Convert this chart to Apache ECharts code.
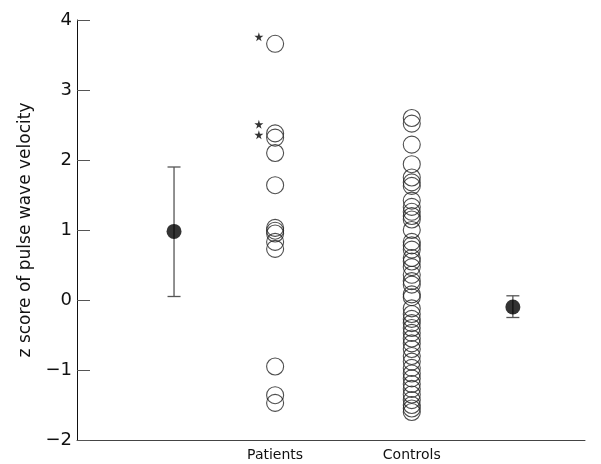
<!DOCTYPE html>
<html><head><meta charset="utf-8">
<script src="https://cdn.jsdelivr.net/npm/echarts@6/dist/echarts.min.js"></script>
<style>html,body{margin:0;padding:0;background:#fff}#c{width:601px;height:464px}</style>
</head><body><div id="c"></div>
<script>
// x positions (arbitrary 0..10 scale) of each column
const groupNames = ['Patients', 'Controls'];
const groupX = [3.9, 6.59];
const meanX = [1.91, 8.58];
const starX = 3.58;

const patients = [3.66, 2.38, 2.32, 2.10, 1.64, 1.03, 0.99, 0.95, 0.83, 0.73, -0.95, -1.36, -1.47];
const controls = [2.60, 2.52, 2.22, 1.94, 1.75, 1.68, 1.63, 1.42, 1.33, 1.26, 1.20, 1.15, 1.00, 0.83,
  0.78, 0.72, 0.60, 0.55, 0.47, 0.36, 0.27, 0.22, 0.08, 0.04, -0.12, -0.20, -0.27, -0.33, -0.40,
  -0.47, -0.55, -0.62, -0.70, -0.80, -0.88, -0.97, -1.05, -1.12, -1.20, -1.27, -1.35, -1.43,
  -1.50, -1.55, -1.60];
const starValues = [3.76, 2.51, 2.36];
const means = [0.98, -0.10];
const lowers = [0.05, -0.25];
const uppers = [1.90, 0.06];
const yTicks = [-2, -1, 0, 1, 2, 3, 4];

const starPath = 'path://M50,0 L61,35 L98,35 L68,57 L79,91 L50,70 L21,91 L32,57 L2,35 L39,35 Z';
const font = '"DejaVu Sans", sans-serif';

const chart = echarts.init(document.getElementById('c'));
chart.setOption({
  animation: false,
  grid: {left: 77, right: 16, top: 20, bottom: 24},
  xAxis: {
    type: 'value', min: 0, max: 10,
    splitLine: {show: false},
    axisLine: {onZero: false, lineStyle: {color: '#444', width: 1}},
    axisTick: {show: false},
    axisLabel: {
      customValues: groupX,
      formatter: v => { const i = groupX.indexOf(v); return i >= 0 ? groupNames[i] : ''; },
      color: '#111', fontSize: 14, fontFamily: font, margin: 8
    }
  },
  yAxis: {
    type: 'value', min: yTicks[0], max: yTicks[yTicks.length - 1], interval: 1,
    name: 'z score of pulse wave velocity', nameLocation: 'middle', nameGap: 42,
    nameTextStyle: {fontSize: 17, fontFamily: font, color: '#111'},
    splitLine: {show: false},
    axisLine: {lineStyle: {color: '#111', width: 1}},
    axisTick: {inside: true, length: 13, lineStyle: {color: '#555'}},
    axisLabel: {
      formatter: v => String(v).replace('-', '\u2212'),
      color: '#111', fontSize: 18, fontFamily: font, margin: 5
    }
  },
  series: [
    {
      type: 'scatter', symbol: 'circle', symbolSize: 17,
      itemStyle: {color: 'rgba(255,255,255,0)', borderColor: '#222', borderWidth: 1.1},
      data: patients.map(v => [groupX[0], v])
    },
    {
      type: 'scatter', symbol: 'circle', symbolSize: 17,
      itemStyle: {color: 'rgba(255,255,255,0)', borderColor: '#222', borderWidth: 1.1},
      data: controls.map(v => [groupX[1], v])
    },
    {
      type: 'scatter', symbol: starPath, symbolSize: 9,
      itemStyle: {color: '#000'},
      data: starValues.map(v => [starX, v])
    },
    {
      type: 'custom',
      renderItem: (params, api) => {
        const x = api.value(0);
        const lo = api.coord([x, api.value(1)]);
        const hi = api.coord([x, api.value(2)]);
        const hw = 6.5;
        const st = {stroke: '#555', lineWidth: 1.3};
        return {type: 'group', children: [
          {type: 'line', shape: {x1: lo[0], y1: lo[1], x2: hi[0], y2: hi[1]}, style: st},
          {type: 'line', shape: {x1: lo[0]-hw, y1: lo[1], x2: lo[0]+hw, y2: lo[1]}, style: st},
          {type: 'line', shape: {x1: hi[0]-hw, y1: hi[1], x2: hi[0]+hw, y2: hi[1]}, style: st}
        ]};
      },
      data: meanX.map((x, i) => [x, lowers[i], uppers[i]]),
      z: 1
    },
    {
      type: 'scatter', symbol: 'circle', symbolSize: 15,
      itemStyle: {color: '#000'},
      data: meanX.map((x, i) => [x, means[i]]),
      z: 3
    }
  ]
});
</script></body></html>
